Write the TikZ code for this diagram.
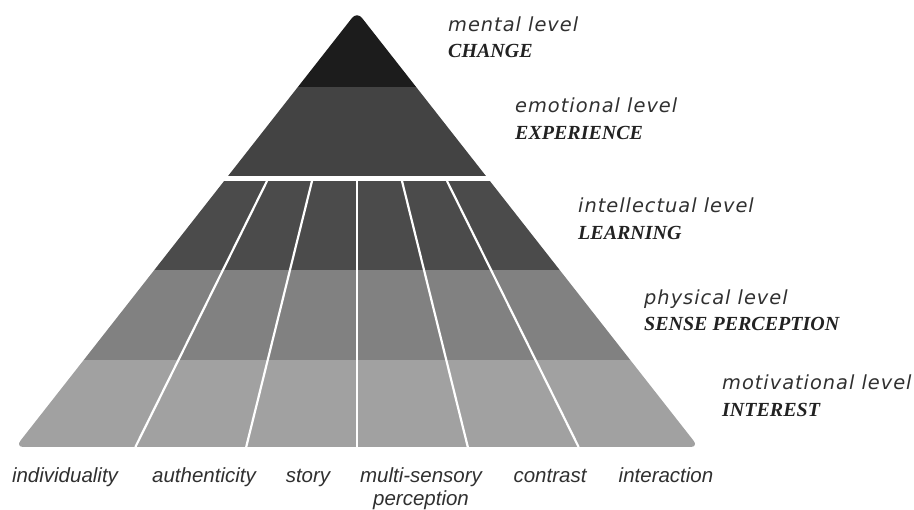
\documentclass[tikz,border=0pt]{standalone}
\usepackage{fontspec}
\newfontfamily\lvlfont{DejaVu Sans}[LetterSpace=5]
\newfontfamily\capfont{Liberation Serif}
\newfontfamily\botfont{Liberation Sans}
\definecolor{cMental}{HTML}{1C1C1C}
\definecolor{cEmo}{HTML}{434343}
\definecolor{cInt}{HTML}{4B4B4B}
\definecolor{cPhys}{HTML}{818181}
\definecolor{cMot}{HTML}{A1A1A1}
\definecolor{txt}{HTML}{303030}
\tikzset{
  lvl/.style={anchor=base west, inner sep=0pt, text=txt, font=\lvlfont\itshape\fontsize{19.4}{23}\selectfont},
  capt/.style={anchor=base west, inner sep=0pt, text=txt!70!black, font=\capfont\bfseries\itshape\fontsize{20}{23}\selectfont},
  bot/.style={anchor=base, inner sep=0pt, text=txt, font=\botfont\itshape\fontsize{20.5}{24}\selectfont},
  divider/.style={draw=white, line width=2.2pt}
}
\begin{document}
\begin{tikzpicture}[x=1pt,y=-1pt]
\useasboundingbox (0,0) rectangle (914,510);
\begin{scope}
  \clip[rounded corners=8pt] (357,11.6) -- (698.5,447) -- (15.5,447) -- cycle;
  \fill[cMental] (0,0) rectangle (914,87);
  \fill[cEmo] (0,87) rectangle (914,176);
  \fill[cInt] (0,181) rectangle (914,270);
  \fill[cPhys] (0,270) rectangle (914,360);
  \fill[cMot] (0,360) rectangle (914,447);
\end{scope}
\foreach \k in {-2,...,2}{
  \draw[divider] (357+\k*45,181) -- (357+\k*110.8,447);
}
% level labels
\node[lvl]  (mentalL) at (448,32)  {mental level};
\node[capt] (mentalC) at (448,58)  {CHANGE};
\node[lvl]  (emoL)    at (515,113) {emotional level};
\node[capt] (emoC)    at (515,140) {EXPERIENCE};
\node[lvl]  (intL)    at (578,213) {intellectual level};
\node[capt] (intC)    at (578,240) {LEARNING};
\node[lvl]  (physL)   at (644,305) {physical level};
\node[capt] (physC)   at (644,331) {SENSE PERCEPTION};
\node[lvl]  (motL)    at (722,390) {motivational level};
\node[capt] (motC)    at (722,417) {INTEREST};
% bottom labels
\node[bot] (ind)  at (65,483)  {individuality};
\node[bot] (auth) at (204,483) {authenticity};
\node[bot] (sto)  at (308,483) {story};
\node[bot] (mul)  at (421,483) {multi-sensory};
\node[bot] (per)  at (421,506) {perception};
\node[bot] (con)  at (550,483) {contrast};
\node[bot] (inter) at (666,483) {interaction};
\end{tikzpicture}
\end{document}
